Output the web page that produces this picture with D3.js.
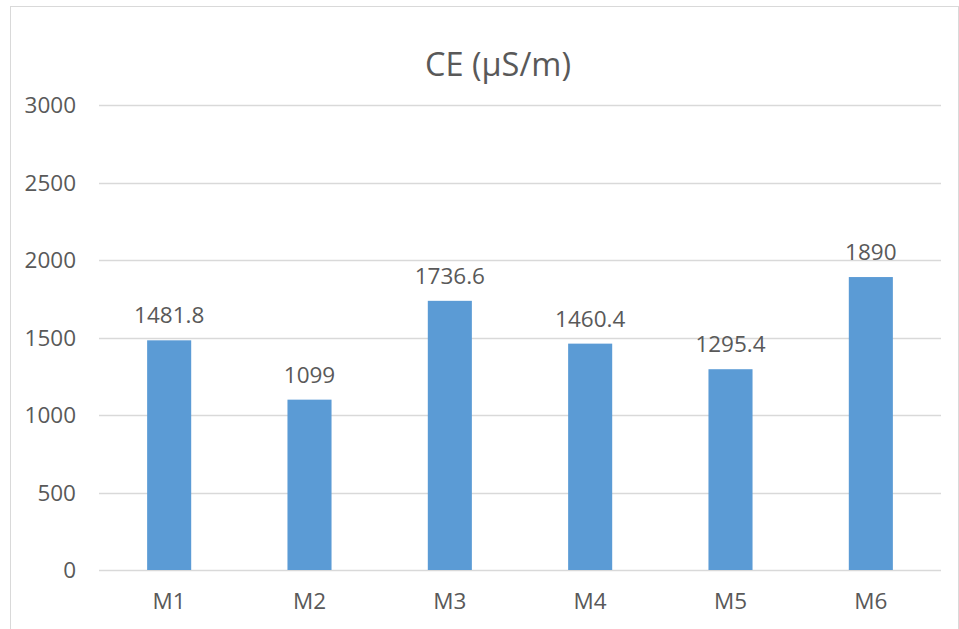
<!DOCTYPE html>
<html>
<head>
<meta charset="utf-8">
<script src="https://cdn.jsdelivr.net/npm/d3@7/dist/d3.min.js"></script>
<style>
  html, body { margin: 0; padding: 0; background: #fff; }
  svg { display: block; }
  text { font-family: "Open Sans", "Liberation Sans", sans-serif; fill: #595959; }
</style>
</head>
<body>
<svg id="chart" width="959" height="629"></svg>
<script>
// Conductivity per sample
const categories = ["M1", "M2", "M3", "M4", "M5", "M6"];
const values = [1481.8, 1099, 1736.6, 1460.4, 1295.4, 1890];
const yTicks = [0, 500, 1000, 1500, 2000, 2500, 3000];
const title = "CE (µS/m)";

const svg = d3.select("#chart");
const plot = { left: 99, right: 941, top: 105, bottom: 570 };
const labelSize = 22.5;

// outer chart frame
svg.append("rect")
  .attr("x", 10.5).attr("y", 6.5)
  .attr("width", 948).attr("height", 640)
  .attr("fill", "none").attr("stroke", "#d9d9d9").attr("stroke-width", 1);

const x = d3.scaleBand()
  .domain(categories)
  .range([plot.left, plot.right])
  .paddingInner(0.686)
  .paddingOuter(0.343);

const y = d3.scaleLinear()
  .domain([0, 3000])
  .range([plot.bottom, plot.top]);

// horizontal gridlines
svg.append("g")
  .selectAll("line")
  .data(yTicks)
  .join("line")
  .attr("x1", plot.left).attr("x2", plot.right)
  .attr("y1", d => Math.round(y(d)) + 0.5)
  .attr("y2", d => Math.round(y(d)) + 0.5)
  .attr("stroke", "#d9d9d9").attr("stroke-width", 1.3);

// y axis labels
const yAxis = d3.axisLeft(y).tickValues(yTicks).tickFormat(d3.format("d")).tickSize(0).tickPadding(0);
const gy = svg.append("g")
  .attr("transform", `translate(76,0)`)
  .call(yAxis);
gy.select(".domain").remove();
gy.selectAll("text")
  .attr("font-size", labelSize)
  .style("font-family", '"Open Sans", sans-serif')
  .attr("fill", "#595959")
  .attr("dy", "0.35em");

// x axis labels
const xAxis = d3.axisBottom(x).tickSize(0).tickPadding(0);
const gx = svg.append("g")
  .attr("transform", `translate(0,${plot.bottom})`)
  .call(xAxis);
gx.select(".domain").remove();
gx.selectAll("text")
  .attr("font-size", labelSize)
  .style("font-family", '"Open Sans", sans-serif')
  .attr("fill", "#595959")
  .attr("dy", null)
  .attr("y", 39);

// bars
svg.append("g")
  .selectAll("rect")
  .data(values)
  .join("rect")
  .attr("x", (d, i) => x(categories[i]))
  .attr("width", x.bandwidth())
  .attr("y", d => y(d))
  .attr("height", d => y(0) - y(d))
  .attr("fill", "#5b9bd5");

// value labels
svg.append("g")
  .selectAll("text")
  .data(values)
  .join("text")
  .attr("x", (d, i) => x(categories[i]) + x.bandwidth() / 2)
  .attr("y", d => y(d) - 17)
  .attr("text-anchor", "middle")
  .attr("font-size", labelSize)
  .text(d => String(d));

// title
svg.append("text")
  .attr("x", 498)
  .attr("y", 76)
  .attr("text-anchor", "middle")
  .attr("font-size", 32.5)
  .text(title);
</script>
</body>
</html>
